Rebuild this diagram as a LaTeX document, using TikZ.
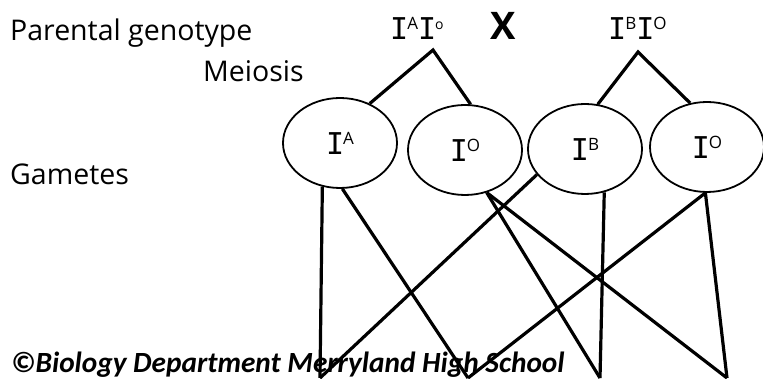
\documentclass[tikz,border=0pt]{standalone}
\usepackage{fontspec}
\setmainfont{Open Sans}
\newfontfamily\footfont{Carlito}
\newfontfamily\monofont{DejaVu Sans Mono}
\usetikzlibrary{shapes.geometric}
\newcommand{\bigI}{{\monofont\fontsize{30}{30}\selectfont I}}
\newcommand{\supr}[1]{\raisebox{10pt}{\fontsize{17}{17}\selectfont #1}}
\newcommand{\allele}[1]{\bigI\hspace{-1pt}\supr{#1}}
\tikzset{
  lbl/.style={font=\fontsize{28.5}{28.5}\selectfont, anchor=base west, inner sep=0},
  gamete/.style={ellipse, draw, line width=1.8pt, minimum width=114pt, minimum height=90pt, inner sep=0},
  conn/.style={line width=3.2pt},
  geno/.style={anchor=base west, inner sep=0}
}
\begin{document}
\begin{tikzpicture}[x=1pt,y=-1pt]
\useasboundingbox (0,0) rectangle (763,379);
\node[lbl] (pg) at (10,41) {Parental genotype};
\node[lbl] (mei) at (203,82) {Meiosis};
\node[lbl] (gam) at (10,185) {Gametes};
\node[geno] (p1) at (390,40) {\allele{A}\allele{\fontsize{14}{14}\selectfont o}};
\node[inner sep=0, font=\fontsize{38}{38}\selectfont\bfseries] (cross) at (503,26) {X};
\node[geno] (p2) at (608,40) {\allele{B}\allele{O}};
\coordinate (a1) at (433,50);
\coordinate (a2) at (638,52);
\node[gamete] (e1) at (340,143) {\allele{A}};
\node[gamete] (e2) at (465,150) {\allele{O}};
\node[gamete] (e3) at (585,149) {\allele{B}};
\node[gamete] (e4) at (707,147) {\allele{O}};
\coordinate (b1) at (320,378);
\coordinate (b2) at (468,378);
\coordinate (b3) at (600,378);
\coordinate (b4) at (727,378);
\draw[conn] (e1.53) -- (a1) -- (e2.83);
\draw[conn] (e3.74) -- (a2) -- (e4.111);
\draw[conn] (e1.-112) -- (b1);
\draw[conn] (e1.-87) -- (b2);
\draw[conn] (e2.-63) -- (b3);
\draw[conn] (e2.-63) -- (b4);
\draw[conn] (e3.-152) -- (b1);
\draw[conn] (e3.-66) -- (b3);
\draw[conn] (e4.-92) -- (b2);
\draw[conn] (e4.-92) -- (b4);
\node[anchor=base west, inner sep=0, font=\footfont\fontsize{29.3}{29.3}\selectfont\bfseries\itshape] (foot) at (11,372) {©Biology Department Merryland High School};
\end{tikzpicture}
\end{document}
